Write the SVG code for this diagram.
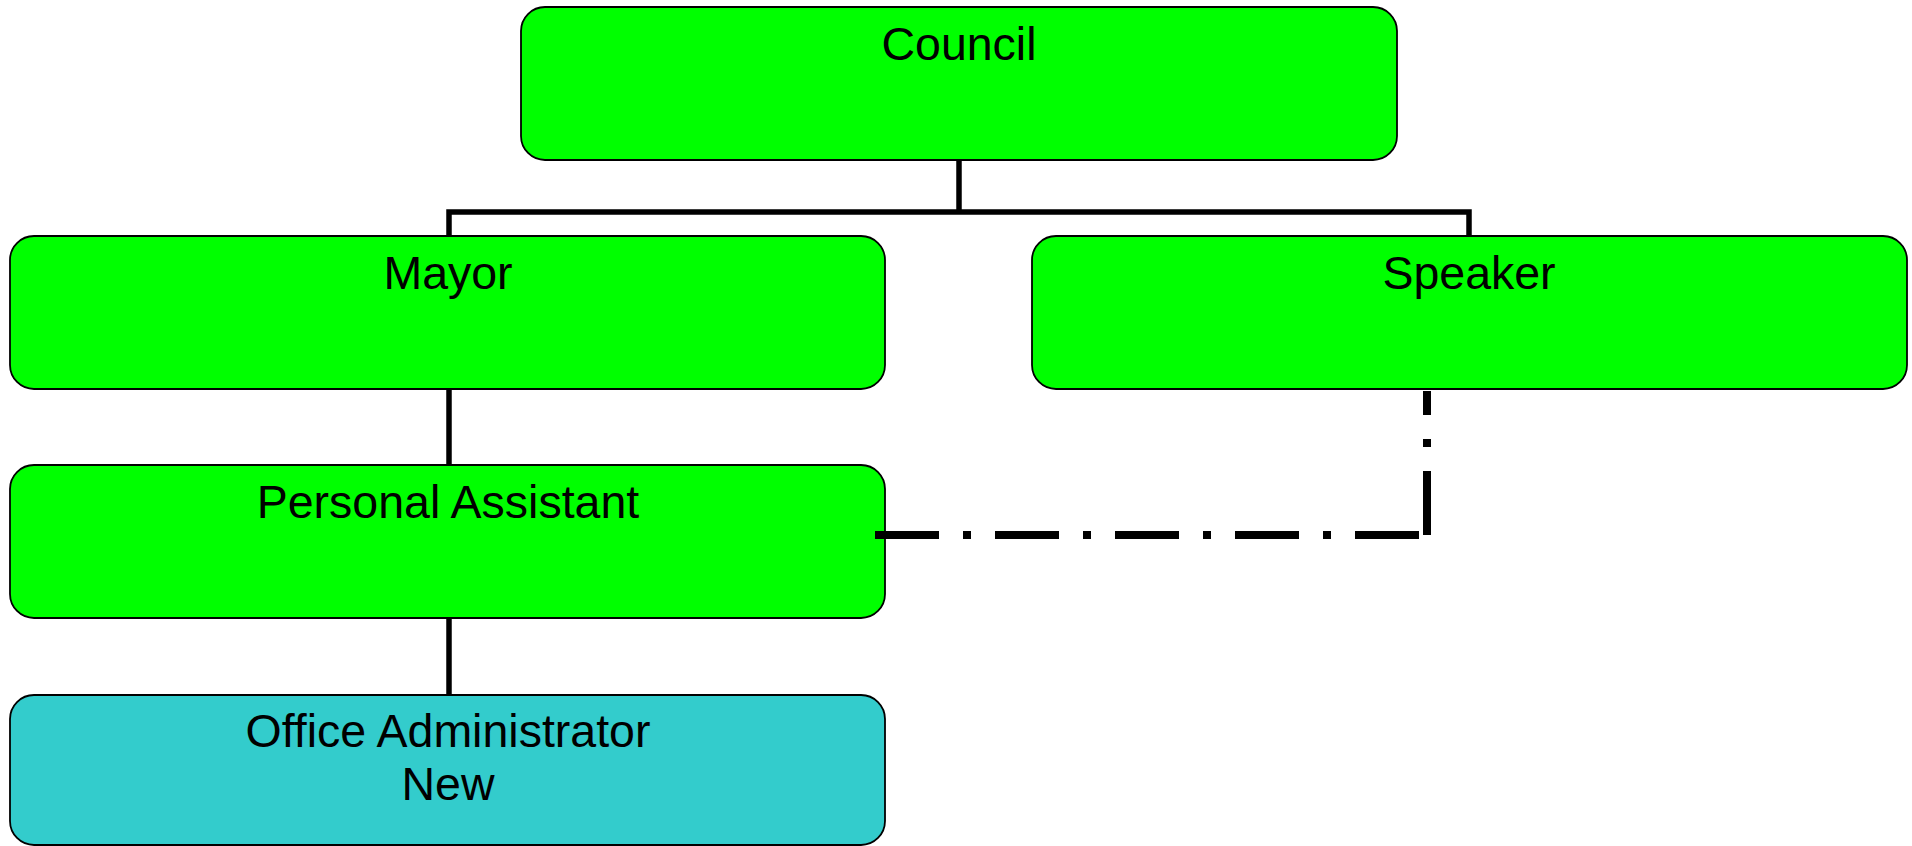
<svg xmlns="http://www.w3.org/2000/svg" width="1912" height="846" viewBox="0 0 1912 846">
  <style>
    .box { stroke: #000; stroke-width: 1.8; }
    .green { fill: #00FF00; }
    .teal { fill: #33CCCC; }
    .lbl { font-family: "Liberation Sans", Arial, sans-serif; font-size: 46.5px; fill: #000; text-anchor: middle; }
    .solid { stroke: #000; stroke-width: 5.5; fill: none; }
    .dashdot { stroke: #000; stroke-width: 8; fill: none; stroke-dasharray: 64 24 8 24; stroke-linecap: butt; }
  </style>
  <rect width="1912" height="846" fill="#fff"/>
  <g id="council">
    <rect class="box green" x="521" y="7" width="876" height="153" rx="24" ry="24"/>
    <text class="lbl" x="959" y="60">Council</text>
  </g>
  <g id="mayor">
    <rect class="box green" x="10" y="236" width="875" height="153" rx="24" ry="24"/>
    <text class="lbl" x="448" y="289">Mayor</text>
  </g>
  <g id="speaker">
    <rect class="box green" x="1032" y="236" width="875" height="153" rx="24" ry="24"/>
    <text class="lbl" x="1469" y="289">Speaker</text>
  </g>
  <g id="personal-assistant">
    <rect class="box green" x="10" y="465" width="875" height="153" rx="24" ry="24"/>
    <text class="lbl" x="448" y="518">Personal Assistant</text>
  </g>
  <g id="office-administrator">
    <rect class="box teal" x="10" y="695" width="875" height="150" rx="24" ry="24"/>
    <text class="lbl" x="448" y="747">Office Administrator</text>
    <text class="lbl" x="448" y="800">New</text>
  </g>
  <g id="connectors">
    <line class="solid" x1="959" y1="161" x2="959" y2="212"/>
    <polyline class="solid" points="449,235 449,212 1469,212 1469,235"/>
    <line class="solid" x1="449" y1="390" x2="449" y2="464"/>
    <line class="solid" x1="449" y1="619" x2="449" y2="694"/>
    <line class="dashdot" x1="875" y1="535" x2="1423" y2="535"/>
    <line class="dashdot" x1="1427" y1="535" x2="1427" y2="391"/>
  </g>
</svg>
